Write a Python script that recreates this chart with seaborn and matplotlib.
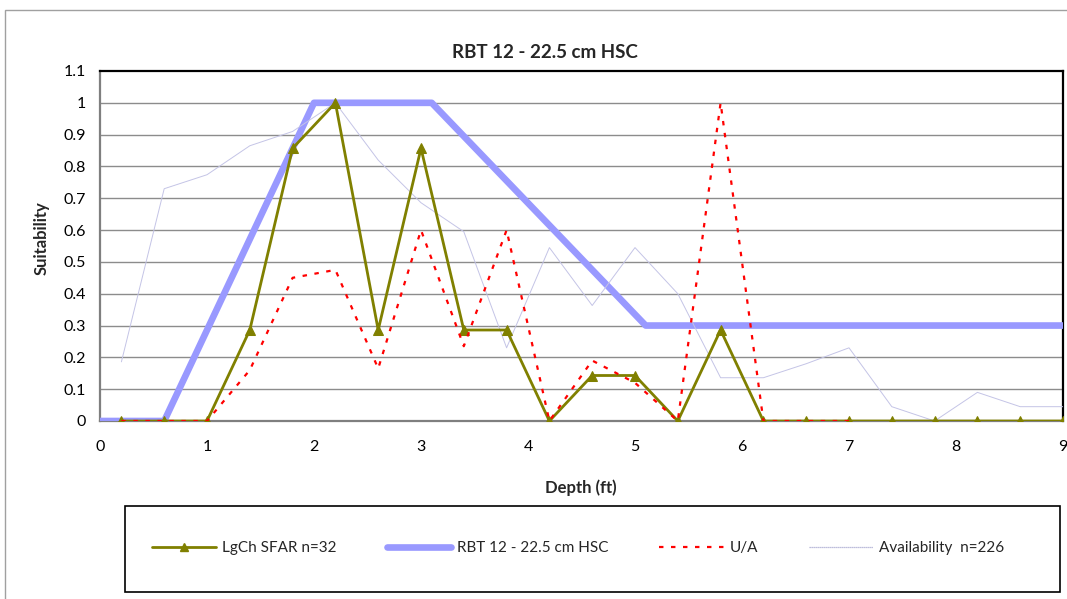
import matplotlib
matplotlib.use("Agg")
import matplotlib.pyplot as plt
from matplotlib.patches import Rectangle
from matplotlib.lines import Line2D
import seaborn as sns
import pandas as pd
import numpy as np

# ---------------- data ----------------
depth = [0.2, 0.6, 1.0, 1.4, 1.8, 2.2, 2.6, 3.0, 3.4, 3.8, 4.2, 4.6, 5.0, 5.4,
         5.8, 6.2, 6.6, 7.0, 7.4, 7.8, 8.2, 8.6, 9.0]
lgch_sfar = [0, 0, 0, 0.286, 0.857, 1.0, 0.286, 0.857, 0.286, 0.286, 0, 0.143,
             0.143, 0, 0.286, 0, 0, 0, 0, 0, 0, 0, 0]
ua = [0, 0, 0, 0.16, 0.45, 0.475, 0.165, 0.6, 0.235, 0.6, 0, 0.19, 0.12, 0,
      1.0, 0, 0, 0, np.nan, np.nan, np.nan, np.nan, np.nan]
availability = [0.186, 0.73, 0.774, 0.865, 0.91, 1.0, 0.82, 0.686, 0.595, 0.23,
                0.545, 0.363, 0.545, 0.40, 0.136, 0.136, 0.18, 0.23, 0.045, 0.0,
                0.09, 0.045, 0.045]
hsc_depth = [0.0, 0.6, 2.0, 3.1, 5.1, 10.0]
hsc_value = [0, 0, 1.0, 1.0, 0.3, 0.3]

x_ticks = list(range(0, 10))
y_ticks = [round(0.1 * i, 1) for i in range(0, 12)]
y_tick_labels = ["0", "0.1", "0.2", "0.3", "0.4", "0.5", "0.6", "0.7", "0.8",
                 "0.9", "1", "1.1"]

title = "RBT 12 - 22.5 cm HSC"
x_label = "Depth (ft)"
y_label = "Suitability"
labels = ["LgCh SFAR n=32", "RBT 12 - 22.5 cm HSC", "U/A", "Availability  n=226"]

# ---------------- style ----------------
sns.set_style("white")
plt.rcParams['font.family'] = ['Lato', 'DejaVu Sans']

W, H = 1067, 599
fig = plt.figure(figsize=(W / 100, H / 100), dpi=100)
ax = fig.add_axes([100 / W, 1 - 421 / H, (1063 - 100) / W, (421 - 71) / H])

olive = "#808000"
blue = "#9999FF"
red = "#FF0000"
avail_col = "#C4C4E6"

df_main = pd.DataFrame({"depth": depth, "lgch": lgch_sfar, "ua": ua,
                        "avail": availability})
df_hsc = pd.DataFrame({"depth": hsc_depth, "hsc": hsc_value})

sns.lineplot(data=df_hsc, x="depth", y="hsc", ax=ax, color=blue, lw=4.8,
             sort=False, estimator=None, zorder=3, solid_capstyle="butt")
sns.lineplot(data=df_main, x="depth", y="avail", ax=ax, color=avail_col, lw=0.7,
             sort=False, estimator=None, zorder=3.5)
sns.lineplot(data=df_main, x="depth", y="lgch", ax=ax, color=olive, lw=2.0,
             marker="^", markersize=6.5, markeredgecolor=olive,
             markerfacecolor=olive, sort=False, estimator=None, zorder=4)
ax.plot(df_main["depth"], df_main["ua"], color=red, lw=1.6,
        linestyle=(0, (2.0, 3.4)), zorder=5)

ax.set_xlim(0, 9)
ax.set_ylim(0, 1.1)
ax.set_xticks(x_ticks)
ax.set_xticklabels([str(v) for v in x_ticks])
ax.set_yticks(y_ticks)
ax.set_yticklabels(y_tick_labels)
ax.set_xlabel("")
ax.set_ylabel("")

for yv in y_ticks[1:-1]:
    ax.axhline(yv, color="#8C8C8C", lw=1.0, zorder=1)

ax.tick_params(axis="both", which="both", direction="out", length=5, width=1,
               color="#808080", labelsize=11.5, labelcolor="black", pad=4)
ax.tick_params(axis="x", pad=9)
ax.tick_params(axis="y", pad=5)

for side in ["left", "bottom"]:
    ax.spines[side].set_color("#7F7F7F")
    ax.spines[side].set_linewidth(1.6)
for side in ["top", "right"]:
    ax.spines[side].set_color("black")
    ax.spines[side].set_linewidth(1.6)
    ax.spines[side].set_visible(True)

fig.text(545 / W, 1 - 52 / H, title, ha="center", va="center",
         fontsize=13.5, fontweight="bold")
fig.text(42 / W, 1 - 238 / H, y_label, ha="center", va="center",
         rotation=90, fontsize=12, fontweight="bold")
fig.text(581 / W, 1 - 488 / H, x_label, ha="center", va="center",
         fontsize=12, fontweight="bold")

# outer chart border (top and left visible)
fig.patches.append(Rectangle((5 / W, -0.2), 1.3, (1 - 10 / H) + 0.2,
                             transform=fig.transFigure, fill=False,
                             edgecolor="#A0A0A0", lw=1.0, zorder=0))
# legend box
fig.patches.append(Rectangle((125 / W, 1 - 592 / H), (1060 - 125) / W,
                             (592 - 506) / H, transform=fig.transFigure,
                             fill=False, edgecolor="black", lw=1.2, zorder=0))

handles = [
    Line2D([], [], color=olive, lw=2.0, marker="^", markersize=6,
           markerfacecolor=olive, markeredgecolor=olive),
    Line2D([], [], color=blue, lw=4.8),
    Line2D([], [], color=red, lw=1.6, linestyle=(0, (2.0, 3.4))),
    Line2D([], [], color="#A8A8D0", lw=0.9, linestyle=(0, (1, 0.6))),
]
fig.legend(handles, labels, loc="center", ncol=4,
           bbox_to_anchor=(578 / W, 1 - 548 / H), frameon=False,
           fontsize=11, handlelength=4.2, handletextpad=0.4,
           columnspacing=3.3, numpoints=1)

fig.savefig("out.png", dpi=100)
